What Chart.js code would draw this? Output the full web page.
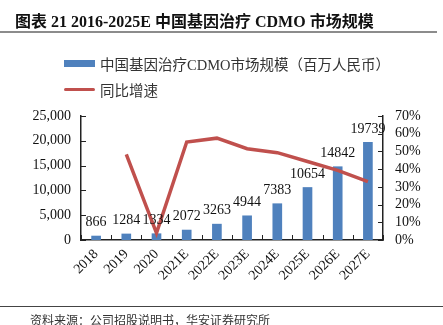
<!DOCTYPE html>
<html>
<head>
<meta charset="utf-8">
<script src="https://cdn.jsdelivr.net/npm/chart.js@4"></script>
<style>
  body { margin: 0; width: 443px; height: 325px; background: #fff; position: relative; overflow: hidden;
         font-family: "Liberation Serif", "Noto Sans CJK SC", serif; }
  #title { position: absolute; left: 15px; top: 8px; font-size: 16px; font-weight: bold; color: #111; white-space: nowrap; }
  #title-line { position: absolute; left: 0; top: 31px; width: 437px; height: 2px; background: #8c8c8c; }
  #legend { position: absolute; left: 64px; top: 50px; font-size: 14.5px; color: #333; }
  .leg { display: flex; align-items: center; height: 26px; }
  .sw { width: 31px; margin-right: 5px; }
  #foot-line { position: absolute; left: 0; top: 306px; width: 443px; height: 1px; background: #444; }
  #source { position: absolute; left: 30px; top: 311px; font-size: 12px; color: #333; white-space: nowrap; font-family: "Noto Sans CJK SC", sans-serif; }
  #wrap { position: absolute; left: 0; top: 0; width: 443px; height: 325px; }
</style>
</head>
<body>
<div id="wrap"><canvas id="chart" width="443" height="325"></canvas></div>
<div id="title">图表 21 2016-2025E 中国基因治疗 CDMO 市场规模</div>
<div id="title-line"></div>
<div id="legend">
  <div class="leg"><span class="sw" style="height:7px;background:#4f81bd"></span>中国基因治疗CDMO市场规模（百万人民币）</div>
  <div class="leg"><span class="sw" style="height:3px;background:#c0504d;border-radius:2px"></span>同比增速</div>
</div>
<div id="foot-line"></div>
<div id="source">资料来源：公司招股说明书，华安证券研究所</div>
<script>
// --- data ---
const years = ["2018", "2019", "2020", "2021E", "2022E", "2023E", "2024E", "2025E", "2026E", "2027E"];
const marketSize = [866, 1284, 1334, 2072, 3263, 4944, 7383, 10654, 14842, 19739];
const growth = [null, 48.3, 3.9, 55.3, 57.5, 51.5, 49.3, 44.3, 39.3, 33.0];
const leftTicks = [0, 5000, 10000, 15000, 20000, 25000];
const rightTicks = [0, 10, 20, 30, 40, 50, 60, 70];

const tickFont = { family: "'Liberation Serif', serif", size: 14 };

// value labels above the bars
const barLabels = {
  id: "barLabels",
  afterDatasetsDraw(chart) {
    const ctx = chart.ctx;
    const meta = chart.getDatasetMeta(1);
    ctx.save();
    ctx.font = "14px 'Liberation Serif', serif";
    ctx.fillStyle = "#111";
    ctx.textAlign = "center";
    ctx.textBaseline = "bottom";
    meta.data.forEach((bar, i) => {
      ctx.fillText(String(marketSize[i]), bar.x, bar.y - 6);
    });
    ctx.restore();
  }
};

// inward tick marks on the axes
const innerTicks = {
  id: "innerTicks",
  afterDraw(chart) {
    const ctx = chart.ctx, a = chart.chartArea;
    const yl = chart.scales.y, yr = chart.scales.y1;
    ctx.save();
    ctx.strokeStyle = "#222";
    ctx.lineWidth = 1;
    ctx.beginPath();
    yl.ticks.forEach(t => { const p = Math.round(yl.getPixelForValue(t.value)) + 0.5; ctx.moveTo(a.left, p); ctx.lineTo(a.left + 5, p); });
    yr.ticks.forEach(t => { const p = Math.round(yr.getPixelForValue(t.value)) + 0.5; ctx.moveTo(a.right - 5, p); ctx.lineTo(a.right, p); });
    const step = (a.right - a.left) / years.length;
    for (let i = 0; i <= years.length; i++) {
      const p = Math.round(a.left + i * step) + 0.5;
      ctx.moveTo(p, a.bottom); ctx.lineTo(p, a.bottom - 5);
    }
    ctx.stroke();
    ctx.restore();
  }
};

new Chart(document.getElementById("chart"), {
  data: {
    labels: years,
    datasets: [
      {
        type: "line",
        label: "同比增速",
        data: growth,
        yAxisID: "y1",
        borderColor: "#c0504d",
        borderWidth: 3.5,
        pointRadius: 0,
        tension: 0,
        spanGaps: false,
        order: 0
      },
      {
        type: "bar",
        label: "中国基因治疗CDMO市场规模（百万人民币）",
        data: marketSize,
        yAxisID: "y",
        backgroundColor: "#4f81bd",
        barPercentage: 0.32,
        categoryPercentage: 1,
        order: 1
      }
    ]
  },
  options: {
    responsive: false,
    animation: false,
    layout: { padding: { top: 116, left: 0, right: 0, bottom: 0 } },
    plugins: { legend: { display: false }, tooltip: { enabled: false } },
    scales: {
      x: {
        grid: { display: false, drawTicks: false },
        border: { color: "#222", width: 1.5 },
        ticks: { color: "#111", font: tickFont, maxRotation: 45, minRotation: 45, autoSkip: false, padding: 6 },
        afterFit: s => { s.height = 85; }
      },
      y: {
        position: "left",
        min: 0, max: 25000,
        afterBuildTicks: s => { s.ticks = leftTicks.map(v => ({ value: v })); },
        grid: { display: false, drawTicks: false },
        border: { color: "#222", width: 1.5 },
        ticks: { color: "#111", font: tickFont, padding: 10, autoSkip: false, callback: v => v.toLocaleString("en-US") },
        afterFit: s => { s.width = 81; }
      },
      y1: {
        position: "right",
        min: 0, max: 70,
        afterBuildTicks: s => { s.ticks = rightTicks.map(v => ({ value: v })); },
        grid: { display: false, drawTicks: false },
        border: { color: "#222", width: 1.5 },
        ticks: { color: "#111", font: tickFont, padding: 12, autoSkip: false, callback: v => v + "%" },
        afterFit: s => { s.width = 60; }
      }
    }
  },
  plugins: [barLabels, innerTicks]
});
</script>
</body>
</html>
